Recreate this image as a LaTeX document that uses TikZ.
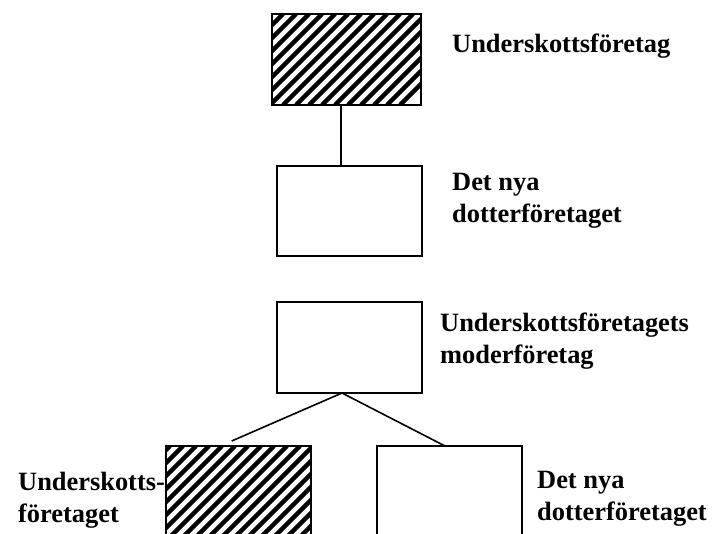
\documentclass[tikz,border=0pt]{standalone}
\usepackage{fontspec}
\setmainfont{Liberation Serif}
\begin{document}
\begin{tikzpicture}[x=1pt,y=-1pt,
  box/.style={draw=black,line width=2pt,fill=white,minimum width=#1,minimum height=91pt,inner sep=0pt,outer sep=0pt},
  box/.default=145pt,
  lbl/.style={anchor=base west,inner sep=0pt,align=left,font=\bfseries\fontsize{26.4}{32}\selectfont},
  conn/.style={draw=black,line width=1.6pt}]
\clip (0,0) rectangle (712,533);
\fill[white] (0,0) rectangle (712,533);
% boxes
\node[box=149pt,minimum height=91pt] (b1) at (346.5,59.5) {};
\node[box,minimum height=90pt] (b2) at (349.5,211) {};
\node[box] (b3) at (349.5,347.5) {};
\node[box] (b4) at (238.5,491.5) {};
\node[box] (b5) at (449.5,491.5) {};
% hatching
\begin{scope}
  \clip (b1.north west) rectangle (b1.south east);
  \foreach \i in {0,...,20} {
    \draw[line width=4.4pt] (140+13*\i,105) -- (140+13*\i+91,14);
  }
\end{scope}
\begin{scope}
  \clip (b4.north west) rectangle (b4.south east);
  \foreach \i in {0,...,20} {
    \draw[line width=4.4pt] (40+13*\i,537) -- (40+13*\i+91,446);
  }
\end{scope}
\draw[line width=2pt] (b1.north west) rectangle (b1.south east);
\draw[line width=2pt] (b4.north west) rectangle (b4.south east);
% connectors
\coordinate (apex) at ([xshift=-7.5pt]b3.south);
\coordinate (lend) at ([xshift=-6.8pt,yshift=5pt]b4.north);
\draw[conn] ([xshift=-5.5pt]b1.south) -- ([xshift=-8.5pt]b2.north);
\draw[conn] (apex) -- (lend);
\draw[conn] (apex) -- ([xshift=-4.5pt]b5.north);
% labels (multi-line labels are anchored at the baseline of their last line)
\node[lbl] (t1) at (452,52) {Underskottsföretag};
\node[lbl] (t2) at (452,222) {Det nya\\dotterföretaget};
\node[lbl] (t3) at (440,363) {Underskottsföretagets\\moderföretag};
\node[lbl] (t4) at (18,522) {Underskotts-\\företaget};
\node[lbl] (t5) at (537,520) {Det nya\\dotterföretaget};
\end{tikzpicture}
\end{document}
